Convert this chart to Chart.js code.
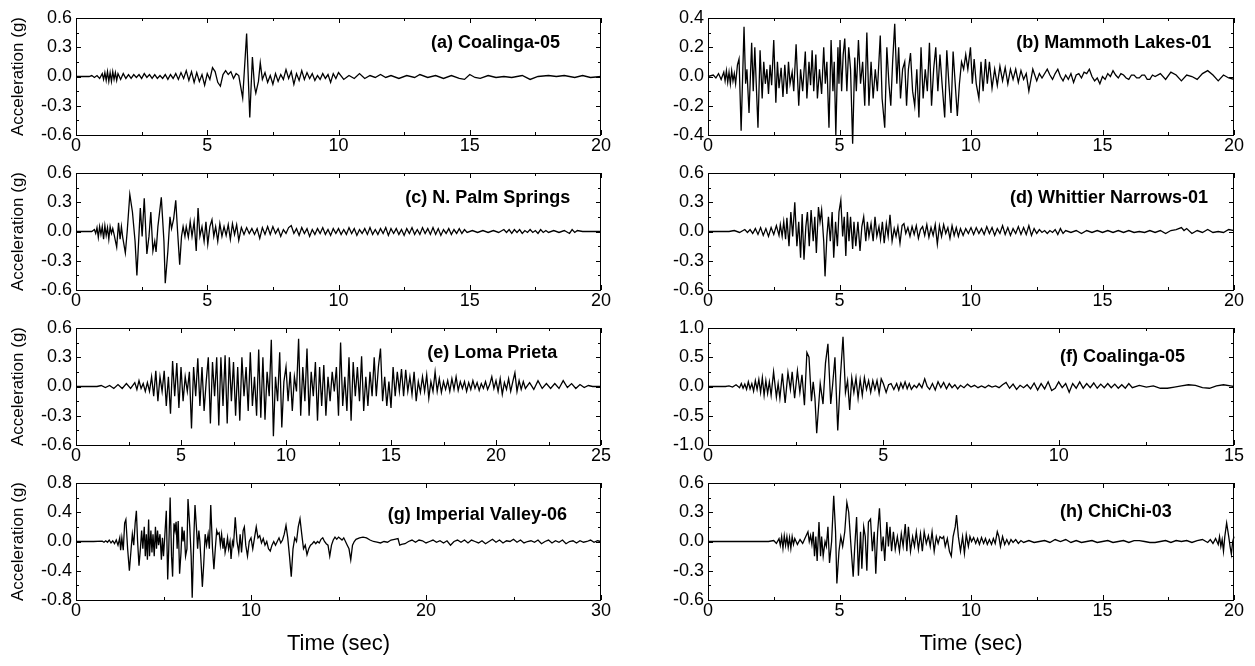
<!DOCTYPE html>
<html>
<head>
<meta charset="utf-8">
<script src="https://cdn.jsdelivr.net/npm/chart.js@4.4.1/dist/chart.umd.min.js"></script>
<style>
  body { margin: 0; background: #fff; }
  #wrap { position: relative; width: 1255px; height: 666px; overflow: hidden; }
  canvas { position: absolute; }
</style>
</head>
<body>
<div id="wrap"></div>
<script>
// accelerograms: [time (s), acceleration (g)]
const coalinga05 = [[0,0],[0.5,0],[0.6,0.01],[0.7,-0.01],[0.8,0.01],[0.9,-0.02],[1.0,0.03],[1.05,-0.03],[1.1,0.04],[1.15,-0.04],[1.2,0.05],[1.25,-0.05],[1.3,0.04],[1.35,-0.05],[1.4,0.05],[1.45,-0.03],[1.5,0.04],[1.55,-0.04],[1.6,0.03],[1.7,-0.03],[1.8,0.03],[1.9,-0.02],[2.0,0.02],[2.1,-0.02],[2.2,0.02],[2.3,-0.01],[2.4,0.02],[2.5,-0.02],[2.6,0.03],[2.7,-0.01],[2.8,0.02],[2.9,-0.02],[3.0,0.02],[3.1,-0.02],[3.2,0.01],[3.3,-0.02],[3.4,0.02],[3.5,-0.03],[3.6,0.02],[3.7,-0.02],[3.8,0.03],[3.9,-0.03],[4.0,0.04],[4.1,-0.02],[4.2,0.06],[4.3,-0.04],[4.4,0.05],[4.5,-0.06],[4.6,0.04],[4.7,-0.05],[4.8,0.02],[4.9,-0.09],[5.0,0.03],[5.1,-0.03],[5.2,0.09],[5.3,0.05],[5.4,-0.06],[5.5,-0.1],[5.6,0.02],[5.7,0.06],[5.8,0.02],[5.9,0.05],[6.0,-0.02],[6.1,0.03],[6.2,0.01],[6.35,-0.22],[6.5,0.44],[6.62,-0.42],[6.72,0.2],[6.8,-0.1],[6.85,-0.17],[6.95,-0.05],[7.02,0.14],[7.1,-0.03],[7.2,0.04],[7.3,-0.06],[7.4,0.01],[7.5,-0.08],[7.6,0.03],[7.7,-0.05],[7.8,0.02],[7.9,-0.03],[8.0,0.07],[8.1,-0.02],[8.2,0.05],[8.3,-0.08],[8.4,0.03],[8.5,-0.04],[8.6,0.06],[8.7,-0.03],[8.8,0.04],[8.9,-0.02],[9.0,0.03],[9.1,-0.04],[9.2,0.01],[9.3,-0.03],[9.4,0.03],[9.5,-0.02],[9.6,0.02],[9.7,-0.06],[9.8,0.03],[9.9,-0.02],[10.0,0.04],[10.2,-0.03],[10.4,0.01],[10.6,-0.02],[10.8,0.03],[11.0,-0.02],[11.2,0.01],[11.4,-0.01],[11.6,0.02],[11.8,-0.01],[12.0,0.01],[12.3,-0.02],[12.6,0.01],[12.9,-0.01],[13.1,0.02],[13.4,-0.01],[13.7,0.01],[14.0,-0.02],[14.3,0.01],[14.6,-0.02],[14.8,-0.03],[15.0,0.02],[15.2,-0.01],[15.4,-0.02],[15.7,0.01],[16.0,-0.01],[16.3,0.0],[16.6,-0.01],[17.0,0.01],[17.3,-0.03],[17.6,0.0],[18.0,0.01],[18.3,0.0],[18.6,0.01],[19.0,-0.01],[19.3,0.01],[19.6,-0.01],[20,0]];

const mammoth01 = [[0,0],[0.2,0.01],[0.3,-0.01],[0.4,0.02],[0.5,-0.02],[0.6,0.03],[0.65,-0.03],[0.7,0.04],[0.75,-0.04],[0.8,0.03],[0.85,-0.05],[0.9,0.04],[0.95,-0.03],[1.0,0.02],[1.05,-0.05],[1.12,0.08],[1.18,0.12],[1.26,-0.37],[1.37,0.34],[1.43,-0.05],[1.48,0.05],[1.56,-0.25],[1.66,0.23],[1.72,-0.1],[1.78,0.2],[1.9,-0.35],[1.98,0.18],[2.06,-0.15],[2.12,0.1],[2.18,-0.05],[2.24,0.05],[2.3,-0.12],[2.36,0.08],[2.42,-0.06],[2.5,0.25],[2.58,-0.18],[2.64,0.1],[2.7,-0.08],[2.78,0.06],[2.85,-0.14],[2.92,0.08],[3.0,-0.12],[3.06,0.1],[3.12,-0.05],[3.2,0.03],[3.26,-0.1],[3.35,0.22],[3.45,-0.2],[3.52,0.05],[3.6,-0.1],[3.7,0.17],[3.76,-0.15],[3.84,0.1],[3.9,-0.06],[3.96,0.18],[4.02,-0.1],[4.1,0.15],[4.16,-0.15],[4.24,0.05],[4.32,-0.12],[4.4,0.2],[4.46,-0.05],[4.52,0.1],[4.6,-0.35],[4.68,0.25],[4.75,-0.1],[4.8,0.1],[4.86,-0.4],[4.94,0.2],[4.98,-0.05],[5.02,0.25],[5.08,-0.1],[5.14,0.15],[5.2,0.26],[5.28,-0.1],[5.35,0.2],[5.42,0.05],[5.5,-0.46],[5.58,0.13],[5.64,-0.1],[5.72,0.25],[5.8,-0.05],[5.88,0.1],[5.96,-0.2],[6.04,0.3],[6.12,-0.2],[6.2,0.1],[6.28,-0.15],[6.36,0.05],[6.44,-0.1],[6.55,0.28],[6.62,-0.15],[6.72,-0.35],[6.8,0.2],[6.88,-0.05],[6.95,-0.2],[7.02,0.1],[7.1,0.36],[7.18,-0.05],[7.25,0.2],[7.32,-0.15],[7.4,0.05],[7.48,0.1],[7.55,-0.2],[7.62,0.05],[7.7,0.16],[7.78,-0.1],[7.86,-0.2],[7.94,0.05],[8.02,-0.28],[8.1,0.2],[8.18,-0.15],[8.26,0.05],[8.34,-0.1],[8.42,0.23],[8.5,-0.2],[8.58,0.05],[8.66,0.2],[8.74,-0.1],[8.82,0.15],[8.9,-0.05],[9.0,-0.28],[9.08,0.18],[9.16,-0.05],[9.24,-0.25],[9.32,0.17],[9.4,-0.05],[9.48,-0.27],[9.56,-0.05],[9.64,0.1],[9.72,0.05],[9.8,0.15],[9.88,0.05],[9.98,0.2],[10.05,-0.05],[10.12,0.12],[10.2,-0.05],[10.3,-0.15],[10.38,0.1],[10.46,-0.1],[10.55,0.12],[10.62,-0.05],[10.7,0.1],[10.8,-0.08],[10.9,0.05],[11.0,-0.06],[11.1,0.07],[11.2,-0.03],[11.3,0.06],[11.4,-0.05],[11.5,0.05],[11.6,-0.02],[11.7,0.05],[11.8,-0.04],[11.9,0.04],[12.0,-0.02],[12.1,0.02],[12.2,-0.1],[12.35,0.05],[12.5,-0.03],[12.6,0.02],[12.7,-0.01],[12.9,0.05],[13.0,0.01],[13.1,-0.02],[13.2,0.02],[13.3,0.05],[13.4,0.0],[13.5,-0.03],[13.6,0.01],[13.7,-0.02],[13.8,0.02],[13.9,-0.04],[14.0,0.01],[14.1,0.02],[14.2,-0.01],[14.3,0.03],[14.4,0.02],[14.5,0.05],[14.6,0.0],[14.7,-0.03],[14.8,-0.01],[14.9,-0.05],[15.0,0.0],[15.1,-0.02],[15.2,0.02],[15.3,0.0],[15.4,0.04],[15.5,0.01],[15.6,-0.01],[15.7,0.02],[15.8,0.01],[15.9,-0.01],[16.0,-0.02],[16.1,0.01],[16.2,0.01],[16.3,-0.01],[16.4,-0.01],[16.5,0.01],[16.6,0.01],[16.7,-0.02],[16.8,-0.02],[16.9,0.01],[17.0,0.0],[17.2,0.02],[17.4,-0.02],[17.6,0.03],[17.8,0.01],[18.0,-0.03],[18.2,0.01],[18.4,0.0],[18.6,-0.02],[18.8,0.02],[19.0,0.04],[19.2,0.01],[19.4,-0.03],[19.6,0.01],[19.8,-0.01],[20,-0.02]];

const palmSprings = [[0,0],[0.6,0],[0.7,0.02],[0.75,-0.02],[0.8,0.04],[0.85,-0.06],[0.9,0.05],[0.95,-0.03],[1.0,0.05],[1.05,-0.08],[1.1,0.06],[1.15,-0.04],[1.2,0.04],[1.25,-0.08],[1.3,0.05],[1.35,-0.02],[1.4,0.03],[1.45,-0.03],[1.55,-0.16],[1.62,0.09],[1.68,-0.08],[1.73,0.05],[1.78,-0.06],[1.88,-0.22],[1.95,0.0],[2.05,0.38],[2.15,0.2],[2.25,-0.1],[2.32,-0.45],[2.45,0.24],[2.52,-0.05],[2.6,0.34],[2.7,-0.23],[2.78,-0.05],[2.85,0.2],[2.93,-0.2],[3.0,-0.1],[3.05,-0.21],[3.12,0.05],[3.25,0.35],[3.35,-0.1],[3.4,-0.53],[3.5,-0.2],[3.58,0.15],[3.64,0.03],[3.72,0.13],[3.8,0.32],[3.87,0.0],[3.95,-0.34],[4.02,-0.05],[4.08,0.05],[4.15,-0.05],[4.2,0.05],[4.28,-0.06],[4.35,0.1],[4.42,-0.05],[4.5,0.1],[4.58,-0.2],[4.65,0.24],[4.72,-0.05],[4.8,0.05],[4.88,-0.1],[4.95,0.1],[5.02,-0.13],[5.1,0.05],[5.18,0.12],[5.25,-0.05],[5.32,0.05],[5.4,-0.1],[5.48,0.08],[5.56,-0.05],[5.64,0.05],[5.72,-0.04],[5.8,0.07],[5.88,-0.08],[5.96,0.08],[6.04,-0.03],[6.12,0.07],[6.2,-0.09],[6.3,0.04],[6.4,-0.03],[6.5,0.04],[6.6,-0.02],[6.7,0.03],[6.8,-0.03],[6.9,0.03],[7.0,-0.07],[7.1,0.04],[7.2,-0.03],[7.3,0.05],[7.4,-0.03],[7.5,0.05],[7.6,-0.02],[7.7,0.03],[7.8,-0.05],[7.9,0.02],[8.0,-0.02],[8.1,0.04],[8.2,0.06],[8.3,-0.02],[8.4,0.03],[8.5,-0.04],[8.6,0.04],[8.7,-0.02],[8.8,0.03],[8.9,-0.05],[9.0,0.02],[9.1,-0.03],[9.2,0.03],[9.3,-0.02],[9.4,0.04],[9.5,-0.03],[9.6,0.02],[9.7,-0.04],[9.8,0.03],[9.9,-0.02],[10.0,0.03],[10.1,-0.03],[10.2,0.02],[10.3,-0.03],[10.4,0.04],[10.5,-0.02],[10.6,0.03],[10.7,-0.04],[10.8,0.02],[10.9,-0.02],[11.0,0.03],[11.1,-0.03],[11.2,0.04],[11.3,-0.03],[11.4,0.02],[11.5,-0.03],[11.6,0.03],[11.7,-0.02],[11.8,0.04],[11.9,-0.04],[12.0,0.03],[12.1,-0.02],[12.2,0.03],[12.3,-0.03],[12.4,0.02],[12.5,-0.04],[12.6,0.03],[12.7,-0.02],[12.8,0.04],[12.9,-0.03],[13.0,0.02],[13.1,-0.03],[13.2,0.04],[13.3,-0.02],[13.4,0.03],[13.5,-0.03],[13.6,0.04],[13.7,-0.03],[13.8,0.03],[13.9,-0.04],[14.0,0.02],[14.1,-0.02],[14.2,0.03],[14.3,-0.03],[14.4,0.02],[14.5,-0.02],[14.6,0.03],[14.7,-0.02],[14.8,0.02],[14.9,-0.01],[15.1,0.01],[15.3,-0.01],[15.5,0.01],[15.7,-0.01],[15.9,0.01],[16.1,-0.01],[16.3,0.02],[16.4,-0.01],[16.5,0.02],[16.6,-0.02],[16.7,0.02],[16.8,-0.01],[16.9,0.02],[17.0,-0.02],[17.1,0.01],[17.2,-0.01],[17.3,0.02],[17.4,-0.01],[17.5,0.01],[17.6,-0.02],[17.7,0.02],[17.8,-0.01],[17.9,0.01],[18.0,-0.01],[18.2,0.01],[18.4,-0.01],[18.6,0.01],[18.8,-0.02],[18.9,0.02],[19.0,-0.01],[19.1,0.01],[19.3,0.0],[19.5,0],[20,0]];

const whittier01 = [[0,0],[0.8,0],[1.0,0.01],[1.2,-0.01],[1.4,0.02],[1.5,-0.01],[1.6,0.02],[1.7,-0.02],[1.8,0.03],[1.9,-0.03],[2.0,0.04],[2.1,-0.04],[2.2,0.03],[2.3,-0.05],[2.4,0.04],[2.5,-0.03],[2.6,0.06],[2.7,-0.04],[2.75,0.07],[2.82,-0.05],[2.88,0.1],[2.95,-0.08],[3.0,0.14],[3.08,-0.15],[3.15,0.2],[3.22,-0.05],[3.3,0.3],[3.38,-0.15],[3.45,0.1],[3.52,-0.27],[3.58,0.18],[3.65,-0.29],[3.72,0.05],[3.78,0.2],[3.85,-0.15],[3.92,0.22],[4.0,-0.1],[4.06,0.15],[4.12,-0.22],[4.2,0.25],[4.26,0.1],[4.32,0.22],[4.4,-0.1],[4.45,-0.46],[4.52,-0.05],[4.58,0.15],[4.65,-0.1],[4.72,0.2],[4.78,-0.27],[4.85,0.1],[4.92,-0.15],[4.98,0.2],[5.05,0.32],[5.12,-0.05],[5.18,0.15],[5.24,-0.25],[5.3,0.2],[5.36,-0.1],[5.42,0.15],[5.5,-0.18],[5.55,0.1],[5.62,-0.15],[5.7,0.1],[5.78,-0.2],[5.85,0.05],[5.92,0.15],[6.0,-0.1],[6.06,0.1],[6.12,-0.05],[6.2,0.08],[6.28,-0.1],[6.35,0.15],[6.42,-0.05],[6.5,0.05],[6.56,-0.08],[6.63,0.1],[6.7,-0.12],[6.78,0.08],[6.85,-0.05],[6.92,0.17],[7.0,-0.1],[7.08,0.03],[7.15,-0.05],[7.22,0.05],[7.3,-0.12],[7.38,0.06],[7.45,0.08],[7.52,-0.02],[7.6,0.04],[7.68,-0.05],[7.76,0.05],[7.84,-0.03],[7.92,0.06],[8.0,-0.07],[8.08,0.02],[8.16,0.05],[8.24,-0.04],[8.32,0.07],[8.4,-0.06],[8.48,0.04],[8.56,-0.04],[8.64,0.07],[8.72,-0.13],[8.8,0.06],[8.88,-0.05],[8.96,0.07],[9.04,-0.02],[9.12,0.04],[9.2,-0.07],[9.28,0.06],[9.36,-0.04],[9.44,0.04],[9.52,-0.05],[9.6,0.03],[9.7,-0.04],[9.8,0.03],[9.9,-0.02],[10.0,0.04],[10.1,-0.03],[10.2,0.04],[10.3,-0.02],[10.4,0.03],[10.5,-0.03],[10.6,0.05],[10.7,-0.02],[10.8,0.04],[10.9,-0.04],[11.0,0.03],[11.1,-0.02],[11.2,0.06],[11.3,-0.03],[11.4,0.04],[11.5,-0.04],[11.6,0.03],[11.7,-0.02],[11.8,0.05],[11.9,-0.03],[12.0,0.04],[12.1,-0.03],[12.2,0.06],[12.3,-0.04],[12.4,0.03],[12.5,-0.02],[12.6,0.02],[12.7,-0.01],[12.8,0.01],[12.9,-0.02],[13.0,0.01],[13.1,-0.01],[13.2,0.02],[13.3,-0.03],[13.4,0.03],[13.5,-0.02],[13.6,0.01],[13.8,-0.01],[14.0,0.01],[14.2,-0.02],[14.4,0.01],[14.6,-0.01],[14.8,0.01],[15.0,-0.01],[15.2,0.01],[15.4,-0.01],[15.6,0.01],[15.8,-0.01],[16.0,0.01],[16.2,-0.01],[16.4,0.0],[16.6,-0.01],[16.8,0.01],[17.0,-0.01],[17.2,0.01],[17.4,-0.02],[17.6,0.01],[17.8,0.02],[18.0,0.04],[18.1,0.01],[18.2,0.03],[18.4,-0.02],[18.6,0.01],[18.8,-0.01],[19.0,0.02],[19.2,-0.01],[19.4,0.0],[19.6,-0.01],[19.8,0.02],[20,0.01]];

const lomaPrieta = [[0,0],[1.0,0],[1.2,0.01],[1.4,-0.01],[1.6,0.01],[1.8,-0.02],[2.0,0.02],[2.2,-0.02],[2.4,0.03],[2.6,-0.02],[2.8,0.04],[2.9,-0.03],[3.0,0.06],[3.1,-0.02],[3.2,0.03],[3.3,-0.05],[3.4,0.04],[3.5,-0.05],[3.6,0.1],[3.7,-0.1],[3.8,0.16],[3.9,-0.15],[4.0,0.1],[4.1,-0.05],[4.2,0.16],[4.3,-0.2],[4.4,0.1],[4.5,-0.28],[4.6,0.26],[4.7,-0.1],[4.8,0.24],[4.9,-0.22],[5.0,0.2],[5.1,-0.15],[5.2,0.1],[5.3,-0.05],[5.4,0.15],[5.5,-0.43],[5.6,0.2],[5.7,-0.1],[5.8,0.29],[5.9,-0.2],[6.0,0.2],[6.1,-0.25],[6.2,0.05],[6.3,0.3],[6.4,-0.38],[6.5,0.25],[6.6,-0.1],[6.7,0.3],[6.8,-0.4],[6.9,0.3],[7.0,-0.2],[7.1,0.32],[7.2,-0.38],[7.3,0.3],[7.4,-0.15],[7.5,0.25],[7.6,-0.3],[7.7,0.2],[7.8,-0.35],[7.9,0.3],[8.0,-0.1],[8.1,0.2],[8.2,-0.25],[8.3,0.35],[8.4,-0.2],[8.5,0.1],[8.6,-0.3],[8.7,0.38],[8.8,-0.32],[8.9,0.3],[9.0,-0.34],[9.1,0.15],[9.2,-0.1],[9.3,0.48],[9.4,-0.51],[9.5,0.1],[9.6,-0.15],[9.7,0.35],[9.8,-0.42],[9.9,0.05],[10.0,0.2],[10.1,-0.15],[10.2,0.15],[10.3,-0.25],[10.4,0.1],[10.5,-0.05],[10.6,0.49],[10.7,-0.3],[10.8,0.2],[10.9,-0.15],[11.0,0.39],[11.1,-0.3],[11.2,0.15],[11.3,-0.1],[11.4,0.25],[11.5,-0.35],[11.6,0.2],[11.7,-0.2],[11.8,0.22],[11.9,-0.3],[12.0,0.1],[12.1,-0.15],[12.2,0.15],[12.3,-0.05],[12.4,0.2],[12.5,-0.3],[12.6,0.45],[12.7,-0.2],[12.8,0.1],[12.9,-0.25],[13.0,0.3],[13.1,-0.35],[13.2,0.25],[13.3,-0.1],[13.4,0.2],[13.5,-0.15],[13.6,0.31],[13.7,-0.25],[13.8,0.1],[13.9,-0.2],[14.0,0.15],[14.1,-0.1],[14.2,0.3],[14.3,-0.1],[14.4,0.2],[14.5,0.39],[14.6,-0.15],[14.7,0.1],[14.8,-0.2],[14.9,0.05],[15.0,-0.22],[15.1,0.2],[15.2,-0.1],[15.3,0.15],[15.4,-0.05],[15.5,0.18],[15.6,-0.1],[15.7,0.17],[15.8,-0.05],[15.9,0.1],[16.0,-0.08],[16.1,0.15],[16.2,-0.15],[16.3,0.05],[16.4,-0.06],[16.5,0.1],[16.6,-0.05],[16.7,0.12],[16.8,-0.12],[16.9,0.05],[17.0,-0.05],[17.1,0.15],[17.2,-0.05],[17.3,0.08],[17.4,-0.06],[17.5,0.05],[17.6,-0.03],[17.7,0.06],[17.8,-0.05],[17.9,0.08],[18.0,-0.03],[18.1,0.1],[18.2,-0.04],[18.3,0.05],[18.4,-0.02],[18.5,0.05],[18.6,-0.05],[18.7,0.04],[18.8,-0.03],[18.9,0.06],[19.0,-0.02],[19.1,0.04],[19.2,-0.04],[19.3,0.03],[19.4,-0.02],[19.5,0.05],[19.6,-0.03],[19.7,0.02],[19.8,0.1],[19.9,-0.02],[20.0,0.06],[20.1,-0.05],[20.2,0.08],[20.3,-0.08],[20.4,0.04],[20.5,-0.03],[20.6,0.08],[20.7,-0.05],[20.8,0.05],[20.9,0.14],[21.0,-0.05],[21.1,0.06],[21.2,-0.03],[21.3,0.05],[21.4,-0.02],[21.6,0.04],[21.8,-0.03],[22.0,0.06],[22.2,-0.02],[22.4,0.03],[22.6,-0.02],[22.8,0.03],[23.0,-0.02],[23.2,0.06],[23.4,-0.01],[23.6,0.03],[23.8,-0.02],[24.0,0.02],[24.2,-0.01],[24.4,0.01],[24.6,0],[25,0]];

const coalinga05b = [[0,0],[0.5,0],[0.6,0.01],[0.7,-0.01],[0.8,0.03],[0.9,-0.02],[0.95,0.05],[1.0,-0.03],[1.05,0.04],[1.1,-0.05],[1.15,0.08],[1.2,-0.04],[1.25,0.05],[1.3,-0.08],[1.35,0.1],[1.4,-0.05],[1.45,0.12],[1.5,-0.1],[1.55,0.15],[1.6,-0.15],[1.65,0.1],[1.7,-0.12],[1.75,0.08],[1.8,-0.15],[1.87,0.25],[1.95,-0.18],[2.0,0.05],[2.05,-0.2],[2.12,0.22],[2.2,-0.28],[2.28,0.24],[2.35,-0.05],[2.4,0.25],[2.47,-0.2],[2.55,0.27],[2.62,-0.1],[2.68,0.2],[2.75,-0.32],[2.82,0.58],[2.88,0.5],[2.95,-0.25],[3.0,0.08],[3.05,-0.2],[3.1,-0.8],[3.2,0.05],[3.28,-0.3],[3.35,0.4],[3.42,0.73],[3.5,-0.3],[3.55,0.0],[3.62,0.5],[3.7,-0.75],[3.78,0.2],[3.85,0.85],[3.92,-0.1],[3.98,0.1],[4.04,-0.4],[4.1,0.15],[4.16,-0.1],[4.22,0.15],[4.28,-0.2],[4.34,0.12],[4.4,-0.15],[4.46,0.15],[4.52,-0.05],[4.58,0.1],[4.64,-0.1],[4.7,0.1],[4.76,-0.05],[4.82,0.1],[4.88,-0.12],[4.94,0.13],[5.0,0.05],[5.08,-0.1],[5.15,0.03],[5.22,0.05],[5.3,-0.05],[5.38,0.05],[5.44,-0.06],[5.5,0.06],[5.56,-0.03],[5.62,0.08],[5.68,-0.04],[5.74,0.05],[5.8,-0.05],[5.88,0.02],[5.95,-0.02],[6.02,0.05],[6.1,-0.02],[6.18,0.13],[6.25,0.0],[6.32,-0.05],[6.4,0.05],[6.48,-0.06],[6.56,0.08],[6.64,-0.02],[6.72,0.07],[6.8,-0.04],[6.88,0.05],[6.96,-0.02],[7.04,0.03],[7.12,-0.04],[7.2,0.02],[7.3,-0.02],[7.4,0.04],[7.5,-0.01],[7.6,0.02],[7.7,-0.02],[7.8,0.01],[7.9,-0.02],[8.0,0.02],[8.1,-0.01],[8.2,0.01],[8.3,-0.02],[8.4,0.03],[8.5,0.07],[8.6,-0.03],[8.7,0.04],[8.8,-0.05],[8.9,0.02],[9.0,-0.02],[9.1,0.03],[9.2,-0.04],[9.3,0.06],[9.4,-0.06],[9.5,0.05],[9.6,-0.04],[9.7,0.08],[9.8,-0.07],[9.9,-0.03],[10.0,0.08],[10.1,-0.02],[10.2,0.05],[10.3,-0.1],[10.4,0.05],[10.5,-0.03],[10.6,0.08],[10.7,-0.03],[10.8,0.05],[10.9,-0.02],[11.0,0.06],[11.1,-0.03],[11.2,0.04],[11.3,-0.02],[11.4,0.05],[11.5,-0.02],[11.6,0.04],[11.7,-0.03],[11.8,0.03],[11.9,-0.03],[12.0,0.05],[12.1,-0.02],[12.3,0.02],[12.5,-0.01],[12.7,0.01],[12.9,-0.03],[13.1,-0.03],[13.3,-0.01],[13.5,0.01],[13.7,0.03],[13.9,0.02],[14.1,-0.02],[14.3,-0.03],[14.5,0.01],[14.7,0.03],[14.9,0.01],[15,0]];

const imperial06 = [[0,0],[1.0,0],[1.5,0.005],[1.6,-0.01],[1.7,0.01],[1.8,-0.01],[1.9,0.02],[2.0,-0.02],[2.1,0.01],[2.2,-0.03],[2.3,0.02],[2.4,-0.05],[2.5,0.05],[2.55,-0.12],[2.62,0.05],[2.7,-0.12],[2.78,0.25],[2.85,0.3],[2.95,-0.1],[3.05,-0.4],[3.15,-0.1],[3.22,0.1],[3.3,-0.05],[3.38,0.25],[3.45,0.42],[3.52,0.0],[3.6,-0.33],[3.68,-0.1],[3.75,0.15],[3.82,-0.1],[3.9,0.2],[3.96,-0.2],[4.02,0.1],[4.08,-0.25],[4.15,0.3],[4.2,-0.2],[4.28,0.15],[4.34,-0.15],[4.4,0.1],[4.47,-0.2],[4.54,0.2],[4.6,-0.1],[4.66,0.15],[4.72,-0.05],[4.8,0.1],[4.88,-0.25],[4.94,0.05],[5.0,-0.2],[5.08,0.1],[5.16,0.42],[5.24,-0.52],[5.3,-0.1],[5.38,0.6],[5.46,-0.2],[5.52,-0.48],[5.6,0.25],[5.66,0.15],[5.72,0.27],[5.78,-0.1],[5.84,0.28],[5.92,-0.44],[6.0,-0.15],[6.06,0.2],[6.12,0.0],[6.18,0.15],[6.26,-0.2],[6.34,-0.1],[6.4,0.58],[6.5,0.2],[6.58,-0.2],[6.64,-0.77],[6.74,0.1],[6.8,0.5],[6.88,0.2],[6.95,-0.1],[7.02,0.15],[7.08,0.0],[7.15,-0.3],[7.22,-0.62],[7.3,-0.3],[7.38,0.1],[7.46,-0.05],[7.55,0.1],[7.62,-0.1],[7.7,0.5],[7.8,-0.1],[7.88,-0.38],[7.96,-0.1],[8.04,0.15],[8.1,0.1],[8.18,0.12],[8.25,-0.05],[8.32,0.1],[8.4,-0.1],[8.46,0.05],[8.52,-0.15],[8.6,-0.05],[8.66,0.05],[8.72,-0.1],[8.8,0.0],[8.86,-0.24],[8.94,0.0],[9.0,-0.05],[9.1,0.33],[9.2,0.0],[9.3,-0.15],[9.38,0.1],[9.46,-0.15],[9.55,0.15],[9.62,0.2],[9.7,-0.05],[9.8,-0.2],[9.9,0.0],[10.0,0.05],[10.1,-0.1],[10.2,0.05],[10.3,0.2],[10.4,0.05],[10.5,0.08],[10.6,-0.02],[10.7,0.04],[10.8,-0.05],[10.9,0.0],[11.0,-0.1],[11.1,-0.13],[11.2,-0.05],[11.3,0.0],[11.4,-0.05],[11.5,0.0],[11.6,0.05],[11.7,-0.02],[11.8,0.02],[11.9,0.1],[12.0,0.22],[12.1,0.05],[12.2,-0.2],[12.3,-0.48],[12.4,-0.1],[12.5,0.05],[12.6,0.0],[12.7,0.2],[12.8,0.31],[12.9,0.1],[13.0,-0.1],[13.1,-0.05],[13.2,-0.18],[13.3,-0.1],[13.4,-0.05],[13.5,-0.03],[13.6,0.0],[13.7,-0.03],[13.8,0.0],[13.9,-0.02],[14.0,0.03],[14.1,0.05],[14.2,0.0],[14.3,-0.03],[14.4,-0.05],[14.5,-0.2],[14.6,-0.05],[14.7,0.02],[14.8,0.06],[14.9,0.03],[15.0,0.06],[15.1,0.04],[15.2,0.02],[15.3,0.05],[15.4,0.0],[15.5,-0.05],[15.6,-0.1],[15.7,-0.25],[15.8,-0.05],[15.9,0.0],[16.0,0.03],[16.2,0.05],[16.4,0.06],[16.6,0.05],[16.8,0.02],[17.0,0.0],[17.2,-0.01],[17.4,-0.02],[17.6,0.0],[17.8,-0.01],[18.0,0.02],[18.2,0.03],[18.4,0.04],[18.5,-0.05],[18.6,-0.04],[18.8,-0.03],[19.0,0.0],[19.2,0.02],[19.4,-0.01],[19.6,0.02],[19.8,0.01],[20.0,-0.02],[20.2,0.0],[20.4,0.02],[20.6,-0.01],[20.8,0.01],[21.0,-0.02],[21.2,0.01],[21.4,-0.05],[21.6,0.0],[21.8,0.02],[22.0,-0.01],[22.2,0.02],[22.4,-0.02],[22.6,0.02],[22.8,0.0],[23.0,-0.02],[23.2,0.01],[23.4,-0.03],[23.6,0.0],[23.8,0.03],[24.0,-0.01],[24.2,0.02],[24.4,-0.02],[24.6,0.01],[24.8,0.0],[25.0,0.03],[25.2,-0.01],[25.4,0.02],[25.6,-0.02],[25.8,0.0],[26.0,0.01],[26.2,-0.01],[26.4,0.02],[26.6,-0.03],[26.8,0.0],[27.0,0.02],[27.2,-0.02],[27.4,0.01],[27.6,-0.01],[27.8,0.02],[28.0,-0.03],[28.2,0.0],[28.4,0.01],[28.6,-0.02],[28.8,0.01],[29.0,-0.01],[29.2,0.0],[29.4,0.02],[29.6,-0.01],[29.8,0.01],[30,0]];

const chichi03 = [[0,0],[2.3,0],[2.5,0.01],[2.6,-0.02],[2.7,0.03],[2.75,-0.04],[2.8,0.05],[2.85,-0.07],[2.9,0.06],[2.95,-0.04],[3.0,0.05],[3.05,-0.06],[3.1,0.04],[3.15,-0.07],[3.2,0.05],[3.25,-0.03],[3.3,0.03],[3.4,-0.03],[3.5,0.02],[3.6,-0.02],[3.7,0.04],[3.8,0.1],[3.85,0.0],[3.9,0.06],[3.95,-0.03],[4.0,0.1],[4.05,-0.15],[4.1,0.05],[4.15,-0.2],[4.22,0.2],[4.28,-0.15],[4.32,0.05],[4.38,-0.15],[4.45,0.0],[4.5,-0.05],[4.56,0.15],[4.62,-0.22],[4.7,0.0],[4.78,0.47],[4.85,0.1],[4.9,-0.43],[4.98,-0.1],[5.05,0.05],[5.12,-0.05],[5.2,0.1],[5.28,0.4],[5.35,0.3],[5.45,-0.1],[5.52,-0.36],[5.58,-0.05],[5.65,0.25],[5.72,-0.35],[5.8,0.1],[5.85,-0.28],[5.92,0.15],[5.98,0.05],[6.04,-0.3],[6.1,0.2],[6.18,0.23],[6.25,-0.1],[6.32,0.1],[6.38,-0.33],[6.45,0.1],[6.52,0.34],[6.6,-0.1],[6.66,0.05],[6.72,-0.2],[6.8,0.2],[6.86,-0.05],[6.92,0.15],[6.98,-0.1],[7.05,0.1],[7.12,-0.08],[7.2,0.05],[7.28,-0.1],[7.35,0.08],[7.42,-0.05],[7.5,0.18],[7.56,-0.1],[7.62,0.15],[7.7,-0.1],[7.78,0.05],[7.85,-0.05],[7.92,0.1],[8.0,-0.08],[8.08,0.08],[8.15,-0.1],[8.22,0.1],[8.3,-0.02],[8.38,0.06],[8.45,-0.05],[8.52,0.1],[8.6,-0.1],[8.68,0.05],[8.75,-0.02],[8.82,0.05],[8.9,0.03],[8.96,0.05],[9.02,-0.05],[9.1,0.03],[9.18,-0.1],[9.25,-0.15],[9.32,0.05],[9.4,0.15],[9.45,0.27],[9.52,0.05],[9.6,-0.1],[9.68,0.05],[9.75,-0.12],[9.82,0.07],[9.9,-0.05],[9.96,0.05],[10.02,0.0],[10.1,0.04],[10.18,-0.02],[10.25,0.03],[10.32,-0.03],[10.4,0.04],[10.48,-0.02],[10.55,0.03],[10.62,-0.03],[10.7,0.02],[10.78,-0.03],[10.85,0.03],[10.92,-0.02],[11.0,0.1],[11.06,0.05],[11.12,-0.05],[11.2,0.05],[11.28,-0.03],[11.36,0.02],[11.44,-0.03],[11.52,0.02],[11.6,-0.01],[11.7,0.02],[11.8,-0.02],[11.9,0.01],[12.0,-0.01],[12.2,0.01],[12.4,-0.01],[12.6,0.0],[12.8,0.01],[13.0,-0.01],[13.2,0.02],[13.4,0.0],[13.6,0.02],[13.8,-0.01],[14.0,0.01],[14.2,-0.01],[14.4,0.0],[14.6,0.01],[14.8,-0.01],[15.0,0.0],[15.2,0.01],[15.4,-0.01],[15.6,0.0],[15.8,0.01],[16.0,-0.01],[16.2,0.01],[16.4,0.01],[16.6,0.0],[16.8,-0.01],[17.0,-0.01],[17.2,0.0],[17.4,0.01],[17.6,-0.01],[17.8,0.01],[18.0,0.0],[18.2,0.01],[18.4,-0.01],[18.6,0.01],[18.8,0.02],[19.0,-0.01],[19.1,0.02],[19.2,-0.02],[19.3,0.03],[19.4,-0.03],[19.45,0.05],[19.5,-0.05],[19.55,0.02],[19.6,-0.1],[19.65,0.05],[19.72,0.19],[19.8,0.05],[19.85,-0.05],[19.9,-0.13],[19.95,0.0],[20,0.05]];

// panel titles and axis ranges
const panelLabels = ['(a) Coalinga-05', '(b) Mammoth Lakes-01', '(c) N. Palm Springs', '(d) Whittier Narrows-01',
                     '(e) Loma Prieta', '(f) Coalinga-05', '(g) Imperial Valley-06', '(h) ChiChi-03'];
const records = [coalinga05, mammoth01, palmSprings, whittier01, lomaPrieta, coalinga05b, imperial06, chichi03];
const timeMax = [20, 20, 20, 20, 25, 15, 30, 20];
const timeStep = [5, 5, 5, 5, 5, 5, 10, 5];
const accMax = [0.6, 0.4, 0.6, 0.6, 0.6, 1.0, 0.8, 0.6];
const accStep = [0.3, 0.2, 0.3, 0.3, 0.3, 0.5, 0.4, 0.3];

// where each panel title sits (fraction of plot width, px from plot top)
const labelPos = [[0.676, 25], [0.586, 25], [0.627, 25], [0.574, 25], [0.669, 25], [0.669, 29], [0.594, 32], [0.669, 29]];

Chart.defaults.font.family = '"Liberation Sans", Arial, sans-serif';
Chart.defaults.color = '#000';

const framePlugin = {
	id: 'frame',
	afterDatasetsDraw(chart, args, opts) {
		const ctx = chart.ctx;
		const a = chart.chartArea;
		const xs = chart.scales.x, ys = chart.scales.y;
		ctx.save();
		ctx.strokeStyle = '#000';
		ctx.lineWidth = 1;
		ctx.strokeRect(a.left + 0.5, a.top + 0.5, a.right - a.left - 1, a.bottom - a.top);

		ctx.beginPath();
		// inward ticks, major at tick values, minor halfway
		const xv = xs.ticks.map(t => t.value);
		for (let i = 0; i < xv.length; i++) {
			const p = Math.round(xs.getPixelForValue(xv[i])) + 0.5;
			ctx.moveTo(p, a.bottom); ctx.lineTo(p, a.bottom - 5);
			ctx.moveTo(p, a.top); ctx.lineTo(p, a.top + 5);
			if (i < xv.length - 1) {
				const m = Math.round(xs.getPixelForValue((xv[i] + xv[i + 1]) / 2)) + 0.5;
				ctx.moveTo(m, a.bottom); ctx.lineTo(m, a.bottom - 3);
				ctx.moveTo(m, a.top); ctx.lineTo(m, a.top + 3);
			}
		}
		const yv = ys.ticks.map(t => t.value);
		for (let i = 0; i < yv.length; i++) {
			const p = Math.round(ys.getPixelForValue(yv[i])) + 0.5;
			ctx.moveTo(a.left, p); ctx.lineTo(a.left + 5, p);
			ctx.moveTo(a.right, p); ctx.lineTo(a.right - 5, p);
			if (i < yv.length - 1) {
				const m = Math.round(ys.getPixelForValue((yv[i] + yv[i + 1]) / 2)) + 0.5;
				ctx.moveTo(a.left, m); ctx.lineTo(a.left + 3, m);
				ctx.moveTo(a.right, m); ctx.lineTo(a.right - 3, m);
			}
		}
		ctx.stroke();

		ctx.fillStyle = '#000';
		ctx.font = 'bold 18px "Liberation Sans", Arial, sans-serif';
		ctx.textBaseline = 'middle';
		ctx.textAlign = 'left';
		ctx.fillText(opts.label, a.left + opts.lx * (a.right - a.left), a.top + opts.ly);
		ctx.restore();
	}
};

const wrap = document.getElementById('wrap');

for (let k = 0; k < records.length; k++) {
	const col = k % 2, row = Math.floor(k / 2);
	const last = row === 3;
	const cv = document.createElement('canvas');
	const w = col === 0 ? 620 : 627;
	const h = last ? 201 : 175;
	cv.width = w; cv.height = h;
	cv.style.left = (col === 0 ? 0 : 628) + 'px';
	cv.style.top = (row * 155) + 'px';
	wrap.appendChild(cv);

	const yW = col === 0 ? 76 : 80;
	const xH = h - 18 - 117;

	new Chart(cv, {
		type: 'line',
		data: {
			datasets: [{
				data: records[k].map(p => ({x: p[0], y: p[1]})),
				borderColor: '#000',
				borderWidth: 1.3,
				pointRadius: 0,
				tension: 0,
				clip: false
			}]
		},
		options: {
			responsive: false,
			animation: false,
			events: [],
			layout: {padding: {top: 18, right: col === 0 ? 19 : 21, bottom: 0, left: 0}},
			plugins: {
				legend: {display: false},
				tooltip: {enabled: false},
				frame: {label: panelLabels[k], lx: labelPos[k][0], ly: labelPos[k][1]}
			},
			scales: {
				x: {
					type: 'linear',
					min: 0, max: timeMax[k],
					ticks: {stepSize: timeStep[k], padding: 0, font: {size: 18}, maxRotation: 0},
					grid: {display: false, drawTicks: false},
					border: {display: false},
					title: {display: last, text: 'Time (sec)', font: {size: 22}, padding: {top: 0, bottom: 9}},
					afterFit: s => { s.height = xH; s.paddingLeft = 0; s.paddingRight = 0; }
				},
				y: {
					min: -accMax[k], max: accMax[k],
					ticks: {
						stepSize: accStep[k], padding: 4, font: {size: 18},
						callback: v => Math.abs(v) < 1e-9 ? '0.0' : v.toFixed(1)
					},
					grid: {display: false, drawTicks: false},
					border: {display: false},
					title: {display: col === 0, text: 'Acceleration (g)', font: {size: 17}, padding: {top: 8, bottom: 0}},
					afterFit: s => { s.width = yW; s.paddingTop = 0; s.paddingBottom = 0; }
				}
			}
		},
		plugins: [framePlugin]
	});
}
</script>
</body>
</html>
